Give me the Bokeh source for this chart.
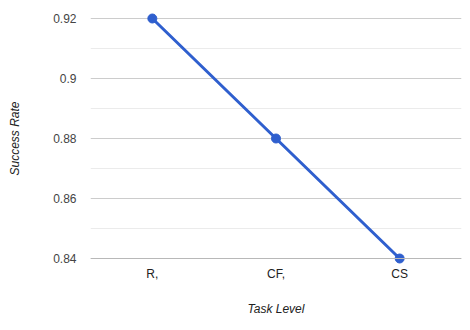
from bokeh.plotting import figure
from bokeh.models import FactorRange, Range1d, FixedTicker, Span, ColumnDataSource
from bokeh.embed import file_html
from bokeh.resources import INLINE

levels = ["R,", "CF,", "CS"]
success = [0.92, 0.88, 0.84]
y_ticks = [0.84, 0.86, 0.88, 0.90, 0.92]
y_minor = [0.85, 0.87, 0.89, 0.91]
y_tick_labels = ["0.84", "0.86", "0.88", "0.9", "0.92"]

src = ColumnDataSource(dict(x=levels, y=success))

p = figure(width=462, height=322, output_backend="svg", toolbar_location=None,
           x_range=FactorRange(*levels, range_padding=0),
           y_range=Range1d(0.838, 0.922),
           min_border_left=90, min_border_right=1, min_border_top=12, min_border_bottom=58)
p.outline_line_color = None
p.background_fill_color = "white"
p.border_fill_color = "white"

p.line("x", "y", source=src, line_color="#2f5fce", line_width=3)
p.scatter("x", "y", source=src, size=9, fill_color="#2f5fce", line_color="#2f5fce")

p.xgrid.grid_line_color = None
p.yaxis.ticker = FixedTicker(ticks=y_ticks, minor_ticks=y_minor)
p.yaxis.major_label_overrides = {t: l for t, l in zip(y_ticks, y_tick_labels)}
p.ygrid.grid_line_color = "#cccccc"
p.ygrid.minor_grid_line_color = "#ebebeb"
p.ygrid.grid_line_width = 1

base = Span(location=y_ticks[0], dimension="width", line_color="#b8b8b8", line_width=1)
p.add_layout(base)

for ax in (p.xaxis, p.yaxis):
    ax.axis_line_color = None
    ax.major_tick_line_color = None
    ax.minor_tick_line_color = None
    ax.major_tick_out = 0
    ax.minor_tick_out = 0
    ax.major_label_text_font = "Liberation Sans"
    ax.major_label_text_font_size = "12px"
    ax.axis_label_text_font = "Liberation Sans"
    ax.axis_label_text_font_size = "12px"
    ax.axis_label_text_font_style = "italic"
    ax.axis_label_text_color = "#222222"

p.yaxis.major_label_text_color = "#444444"
p.xaxis.major_label_text_color = "#222222"
p.yaxis.major_label_standoff = 14
p.yaxis.axis_label = "Success Rate"
p.yaxis.axis_label_standoff = 28
p.xaxis.axis_label = "Task Level"
p.xaxis.major_label_standoff = 2
p.xaxis.axis_label_standoff = 18

open("out.html", "w").write(file_html(p, INLINE))
